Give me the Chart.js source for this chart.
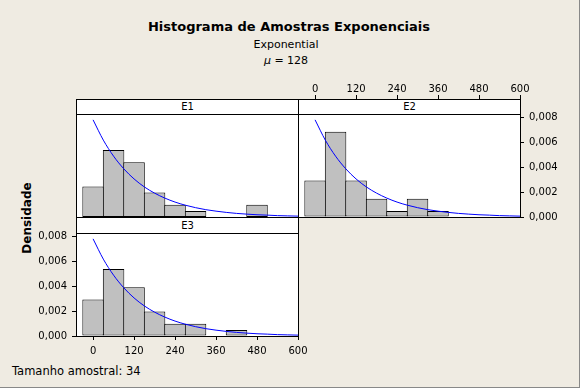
<!DOCTYPE html>
<html>
<head>
<meta charset="utf-8">
<script src="https://cdn.jsdelivr.net/npm/chart.js@4.4.1/dist/chart.umd.min.js"></script>
<style>
  body { margin: 0; }
  #page { position: relative; width: 580px; height: 388px; background: #efebe2; overflow: hidden;
          font-family: "DejaVu Sans", sans-serif; color: #000; box-sizing: border-box;
          border-right: 1px solid #888; border-bottom: 1px solid #888; }
  canvas { position: absolute; left: 0; top: 0; }
  .txt { position: absolute; white-space: nowrap; }
  .plotbg { position: absolute; background: #fff; }
  .frame { position: absolute; border: 1px solid #000; box-sizing: border-box; }
  .strip { position: absolute; border: 1px solid #000; box-sizing: border-box; background: #fff;
           font-size: 10px; text-align: center; }
</style>
</head>
<body>
<div id="page">
  <div class="txt" style="left:0;width:578px;top:19px;text-align:center;font-weight:bold;font-size:13px;line-height:16px;">Histograma de Amostras Exponenciais</div>
  <div class="txt" style="left:0;width:572px;top:38px;text-align:center;font-size:11px;line-height:14px;">Exponential</div>
  <div class="txt" style="left:0;width:572px;top:54px;text-align:center;font-size:11px;line-height:14px;"><i>μ</i> = 128</div>
  <div class="txt" style="left:-23px;width:100px;top:211px;text-align:center;font-weight:bold;font-size:12px;line-height:14px;transform:rotate(-90deg);">Densidade</div>
  <div class="txt" style="left:12px;top:364px;font-size:11.5px;line-height:14px;">Tamanho amostral: 34</div>

  <div class="plotbg" style="left:76px;top:99px;width:223px;height:119px;"></div>
  <div class="plotbg" style="left:298px;top:99px;width:223px;height:119px;"></div>
  <div class="plotbg" style="left:76px;top:217px;width:223px;height:120px;"></div>

  <canvas id="c1" width="580" height="388"></canvas>
  <canvas id="c2" width="580" height="388"></canvas>
  <canvas id="c3" width="580" height="388"></canvas>

  <div class="frame" style="left:76px;top:99px;width:223px;height:119px;"></div>
  <div class="frame" style="left:298px;top:99px;width:223px;height:119px;"></div>
  <div class="frame" style="left:76px;top:217px;width:223px;height:120px;"></div>
  <div class="strip" id="s1" style="left:76px;top:99px;width:223px;height:16px;line-height:14px;"></div>
  <div class="strip" id="s2" style="left:298px;top:99px;width:223px;height:16px;line-height:14px;"></div>
  <div class="strip" id="s3" style="left:76px;top:217px;width:223px;height:17px;line-height:15px;"></div>
</div>
<script>
// histogram bins (centres, width 60)
const binCenters = [0, 60, 120, 180, 240, 300, 360, 420, 480, 540];
const panelNames = ["E1", "E2", "E3"];
const e1Density = [0.00245, 0.00539, 0.00441, 0.00196, 0.00098, 0.00049, 0, 0, 0.00098, 0];
const e2Density = [0.00294, 0.00686, 0.00294, 0.00147, 0.00049, 0.00147, 0.00049, 0, 0, 0];
const e3Density = [0.00294, 0.00539, 0.00392, 0.00196, 0.00098, 0.00098, 0, 0.00049, 0, 0];

// fitted exponential curve
const curveX = [0, 30, 60, 90, 120, 150, 180, 210, 240, 270, 300, 330, 360, 390, 420, 450, 480, 510, 540, 570, 600];
const curveY = [0.00781, 0.00618, 0.00489, 0.00387, 0.00306, 0.00242, 0.00192, 0.00152, 0.00120, 0.00095,
                0.00075, 0.00059, 0.00047, 0.00037, 0.00029, 0.00023, 0.00018, 0.00015, 0.00011, 0.00009, 0.00007];

const xTicks = [0, 120, 240, 360, 480, 600];
const yTicks = [0, 0.002, 0.004, 0.006, 0.008];

const W = 580, H = 388;
const X_H = 30, Y_W = 40;

Chart.defaults.font.family = "'DejaVu Sans', sans-serif";
Chart.defaults.font.size = 10;
Chart.defaults.color = "#000";

panelNames.forEach((n, i) => { document.getElementById("s" + (i + 1)).textContent = n; });

function makePanel(id, density, area, xPos, yPos) {
  const bars = binCenters.map((c, i) => ({ x: c, y: density[i] > 0 ? density[i] : null }));
  const curve = curveX.map((c, i) => ({ x: c, y: curveY[i] }));

  const padding = {
    left: area.left - (yPos === "left" ? Y_W : 0),
    right: W - area.right - (yPos === "right" ? Y_W : 0),
    top: area.top - (xPos === "top" ? X_H : 0),
    bottom: H - area.bottom - (xPos === "bottom" ? X_H : 0)
  };

  new Chart(document.getElementById(id), {
    type: "bar",
    data: {
      datasets: [
        {
          type: "line",
          data: curve,
          borderColor: "#0000ff",
          borderWidth: 1,
          pointRadius: 0,
          fill: false,
          cubicInterpolationMode: "monotone",
          order: 1
        },
        {
          type: "bar",
          data: bars,
          backgroundColor: "#c0c0c0",
          borderColor: "#000",
          borderWidth: 1,
          borderSkipped: false,
          categoryPercentage: 1,
          barPercentage: 1.049,
          order: 2
        }
      ]
    },
    options: {
      responsive: false,
      animation: false,
      devicePixelRatio: 1,
      layout: { padding: padding },
      plugins: { legend: { display: false }, tooltip: { enabled: false }, title: { display: false } },
      scales: {
        x: {
          type: "linear",
          display: !!xPos,
          position: xPos || "bottom",
          min: -50,
          max: 600,
          offset: false,
          afterBuildTicks: (s) => { s.ticks = xTicks.map((v) => ({ value: v })); },
          afterFit: (s) => { if (xPos) s.height = X_H; },
          grid: { display: true, drawOnChartArea: false, drawTicks: true, offset: false,
                  tickLength: xPos === "top" ? 19 : 4, color: "#000" },
          border: { display: false },
          ticks: { padding: xPos === "top" ? 0 : 5, maxRotation: 0, autoSkip: false }
        },
        y: {
          type: "linear",
          display: !!yPos,
          position: yPos || "left",
          min: 0,
          max: 0.00828,
          afterBuildTicks: (s) => { s.ticks = yTicks.map((v) => ({ value: v })); },
          afterFit: (s) => { if (yPos) s.width = Y_W; },
          grid: { display: true, drawOnChartArea: false, drawTicks: true, tickLength: 4, color: "#000" },
          border: { display: false },
          ticks: { padding: 5, callback: (v) => v.toFixed(3).replace(".", ",") }
        }
      }
    }
  });
}

makePanel("c1", e1Density, { left: 76, top: 114, right: 298, bottom: 217 }, null, null);
makePanel("c2", e2Density, { left: 298, top: 114, right: 520, bottom: 217 }, "top", "right");
makePanel("c3", e3Density, { left: 76, top: 233, right: 298, bottom: 336 }, "bottom", "left");
</script>
</body>
</html>
